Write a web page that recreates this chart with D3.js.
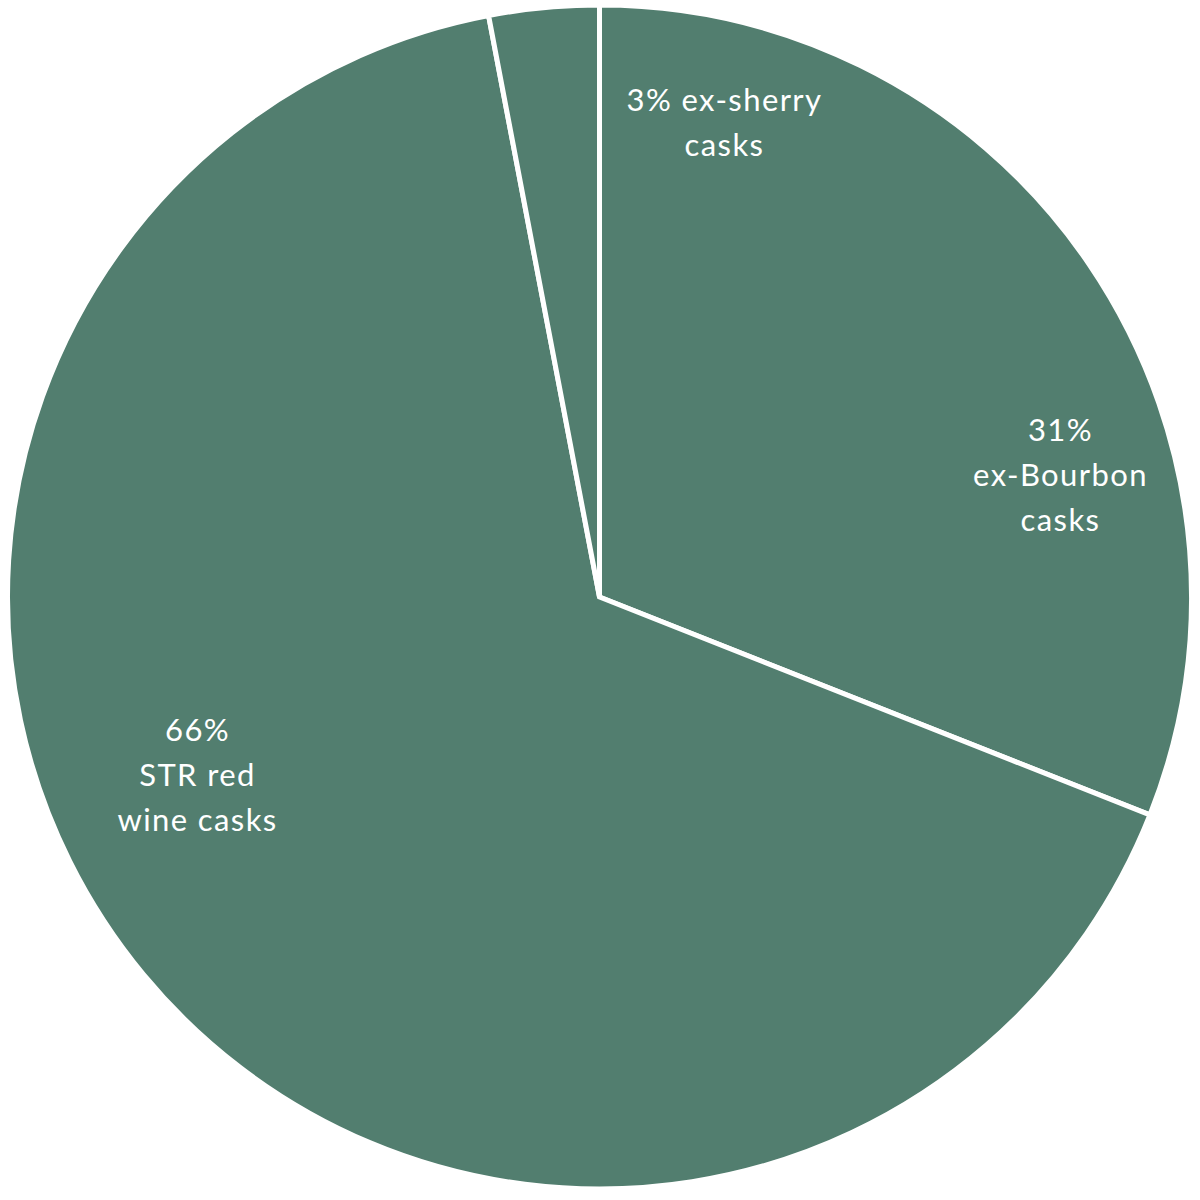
<!DOCTYPE html>
<html>
<head>
<meta charset="utf-8">
<script src="https://cdn.jsdelivr.net/npm/d3@7"></script>
<style>
  html, body { margin: 0; padding: 0; background: #fff; }
  .label { fill: #fff; font-family: Lato, "Open Sans", sans-serif; font-size: 31px; letter-spacing: 1.4px; text-anchor: middle; }
</style>
</head>
<body>
<svg width="1200" height="1200"></svg>
<script>
// data
const categories = ["ex-Bourbon", "STR red wine", "ex-sherry"];
const shares = [31, 66, 3];
const labelLines = [
  ["31%", "ex-Bourbon", "casks"],
  ["66%", "STR red", "wine casks"],
  ["3% ex-sherry", "casks"]
];

// layout
const cx = 599.5, cy = 597, radius = 592;
const fill = "#527e6f";
// label block position (first line centre), relative to pie centre
const labelPos = {
  "ex-Bourbon":   [461, -167],
  "STR red wine": [-402, 133],
  "ex-sherry":    [125, -497]
};
const lineGap = 45;

const svg = d3.select("svg");
const g = svg.append("g").attr("transform", `translate(${cx},${cy})`);

const pie = d3.pie().sort(null).value(d => d.value);
const arc = d3.arc().innerRadius(0).outerRadius(radius);

const data = categories.map((c, i) => ({name: c, value: shares[i], lines: labelLines[i]}));

g.selectAll("path")
  .data(pie(data))
  .enter()
  .append("path")
  .attr("d", arc)
  .attr("fill", fill)
  .attr("stroke", "#fff")
  .attr("stroke-width", 5)
  .attr("stroke-linejoin", "miter");

data.forEach(d => {
  const [x, y] = labelPos[d.name];
  const t = g.append("text").attr("class", "label");
  d.lines.forEach((ln, i) => {
    t.append("tspan")
      .attr("x", x)
      .attr("y", y + i * lineGap)
      .attr("dy", "0.35em")
      .text(ln);
  });
});
</script>
</body>
</html>
